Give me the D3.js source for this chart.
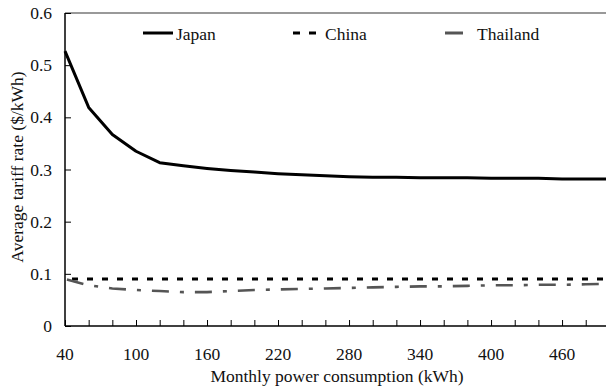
<!DOCTYPE html>
<html><head><meta charset="utf-8">
<script src="https://cdn.jsdelivr.net/npm/d3@7"></script>
<style>body{margin:0;background:#fff}svg{display:block}text{font-family:"Liberation Serif","Times New Roman",serif;fill:#111}</style>
</head><body><svg id="c" width="606" height="386"></svg>
<script>
const consumption = [40,60,80,100,120,140,160,180,200,220,240,260,280,300,320,340,360,380,400,420,440,460,480,500];
const japan    = [0.527,0.419,0.367,0.335,0.313,0.307,0.302,0.298,0.295,0.292,0.290,0.288,0.286,0.285,0.285,0.284,0.284,0.284,0.283,0.283,0.283,0.282,0.282,0.282];
const china    = [0.090,0.090,0.090,0.090,0.090,0.090,0.090,0.090,0.090,0.090,0.090,0.090,0.090,0.090,0.090,0.090,0.090,0.090,0.090,0.090,0.090,0.090,0.090,0.090];
const thailand = [0.090,0.078,0.072,0.069,0.067,0.065,0.065,0.067,0.069,0.070,0.071,0.072,0.073,0.074,0.075,0.076,0.076,0.077,0.078,0.078,0.079,0.079,0.080,0.081];
const xTickLabels = [40,100,160,220,280,340,400,460];
const xMinorTicks = d3.range(40, 500, 20);
const yTicks = [0,0.1,0.2,0.3,0.4,0.5,0.6];
const seriesNames = ["Japan","China","Thailand"];
const FS = 17.5;

const svg = d3.select("#c");
const x = d3.scaleLinear().domain([40,500]).range([65,609.4]);
const y = d3.scaleLinear().domain([0,0.6]).range([326,13]);

// top border
svg.append("line").attr("x1",65).attr("x2",606).attr("y1",y(0.6)).attr("y2",y(0.6))
  .attr("stroke","#777").attr("stroke-width",1.5);

// y axis
const ya = svg.append("g").attr("transform","translate(65,0)")
  .call(d3.axisRight(y).tickValues(yTicks).tickSize(6).tickFormat(d=>d===0?"0":d3.format(".1f")(d)));
ya.select(".domain").attr("stroke","#000").attr("stroke-width",1.5).attr("d","M0,13V326");
ya.selectAll(".tick line").attr("stroke","#000").attr("stroke-width",1);
ya.selectAll(".tick text").attr("x",-13).attr("text-anchor","end").attr("font-size",FS)
  .attr("font-family","Liberation Serif").attr("fill","#111");

// x axis
const xa = svg.append("g").attr("transform","translate(0,326)")
  .call(d3.axisTop(x).tickValues(xMinorTicks).tickSize(6).tickFormat(""));
xa.select(".domain").attr("stroke","#000").attr("stroke-width",1.5).attr("d","M65,0H606");
xa.selectAll(".tick line").attr("stroke","#000").attr("stroke-width",1);
svg.append("g").selectAll("text").data(xTickLabels).join("text")
  .attr("x",d=>x(d)).attr("y",360).attr("text-anchor","middle").attr("font-size",FS).text(d=>d);

// titles
svg.append("text").attr("x",337).attr("y",382).attr("text-anchor","middle").attr("font-size",FS)
  .text("Monthly power consumption (kWh)");
svg.append("text").attr("transform","translate(23,167) rotate(-90)").attr("text-anchor","middle")
  .attr("font-size",FS).text("Average tariff rate ($/kWh)");

const line = d3.line().x((d,i)=>x(consumption[i])).y(d=>y(d));
svg.append("path").datum(japan).attr("d",line).attr("fill","none")
  .attr("stroke","#000").attr("stroke-width",3).attr("stroke-linejoin","round");
svg.append("path").datum(china).attr("d",line).attr("fill","none")
  .attr("stroke","#000").attr("stroke-width",3).attr("stroke-dasharray","6,9").attr("stroke-dashoffset",-7);
svg.append("path").datum(thailand).attr("d",line).attr("fill","none")
  .attr("stroke","#555").attr("stroke-width",2.6).attr("stroke-dasharray","17,11,4,11").attr("stroke-dashoffset",-2);

// legend
const lg = svg.append("g");
lg.append("line").attr("x1",143).attr("x2",173).attr("y1",33).attr("y2",33).attr("stroke","#000").attr("stroke-width",3);
lg.append("text").attr("x",176).attr("y",40).attr("font-size",FS).text(seriesNames[0]);
lg.append("line").attr("x1",293).attr("x2",316).attr("y1",33).attr("y2",33).attr("stroke","#000").attr("stroke-width",3).attr("stroke-dasharray","7,9");
lg.append("text").attr("x",325).attr("y",40).attr("font-size",FS).text(seriesNames[1]);
lg.append("line").attr("x1",445).attr("x2",463).attr("y1",33).attr("y2",33).attr("stroke","#555").attr("stroke-width",3);
lg.append("text").attr("x",477).attr("y",40).attr("font-size",FS).text(seriesNames[2]);
</script></body></html>
